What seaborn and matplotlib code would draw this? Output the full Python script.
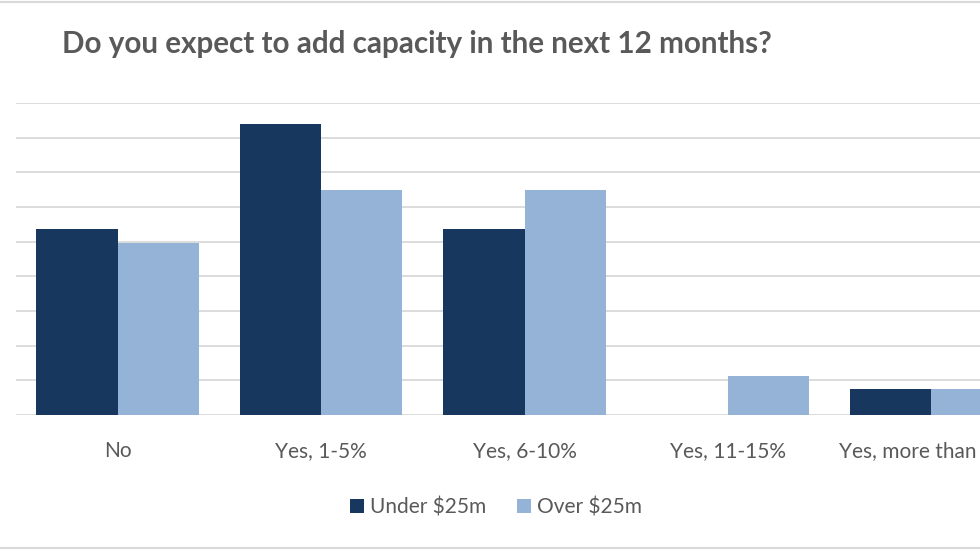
import matplotlib
matplotlib.use("Agg")
import matplotlib.pyplot as plt
import seaborn as sns
import pandas as pd
from matplotlib.lines import Line2D
from matplotlib.patches import Patch

categories = ["No", "Yes, 1-5%", "Yes, 6-10%", "Yes, 11-15%", "Yes, more than 15%"]
series_names = ["Under $25m", "Over $25m"]
under_25m = [26.8, 42.0, 26.8, 0.0, 3.8]
over_25m = [24.8, 32.5, 32.5, 5.6, 3.8]
colors = ["#17375E", "#95B3D7"]

df = pd.DataFrame({
    "category": categories * 2,
    "series": [series_names[0]] * len(categories) + [series_names[1]] * len(categories),
    "value": under_25m + over_25m,
})

sns.set_theme(style="white")
plt.rcParams["font.family"] = ["Lato", "DejaVu Sans"]

fig = plt.figure(figsize=(9.8, 5.52), dpi=100)
ax = fig.add_axes([16 / 980, (552 - 415) / 552, 1017 / 980, (415 - 103) / 552])

sns.barplot(data=df, x="category", y="value", hue="series", order=categories,
            hue_order=series_names, palette=colors, width=0.8, saturation=1,
            ax=ax, legend=False, zorder=3, linewidth=0)

ax.set_ylim(0, 45)
ax.set_xlim(-0.5, len(categories) - 0.5)
ax.set_yticks(range(0, 46, 5))
ax.yaxis.grid(True, color="#D9D9D9", linewidth=1.3, zorder=0)
ax.set_axisbelow(True)
ax.tick_params(axis="y", left=False, labelleft=False)
ax.tick_params(axis="x", bottom=False, labelsize=15, labelcolor="#595959", pad=13)
for s in ax.spines.values():
    s.set_visible(False)
ax.set_xlabel("")
ax.set_ylabel("")

fig.text(62 / 980, 1 - 44 / 552, "Do you expect to add capacity in the next 12 months?",
         fontsize=21.3, fontweight="bold", color="#595959", va="center", ha="left")

handles = [Patch(facecolor=c, edgecolor="none") for c in colors]
fig.legend(handles, series_names, loc="center", bbox_to_anchor=(496 / 980, 1 - 507 / 552),
           ncol=2, frameon=False, fontsize=15, labelcolor="#595959",
           handlelength=0.65, handleheight=0.65, handletextpad=0.3, columnspacing=1.5)

fig.add_artist(Line2D([0, 1], [1 - 1.5 / 552, 1 - 1.5 / 552], transform=fig.transFigure,
                      color="#D9D9D9", linewidth=1.5))
fig.add_artist(Line2D([0, 1], [1 - 548 / 552, 1 - 548 / 552], transform=fig.transFigure,
                      color="#D9D9D9", linewidth=1.5))

fig.savefig("out.png", dpi=100)
